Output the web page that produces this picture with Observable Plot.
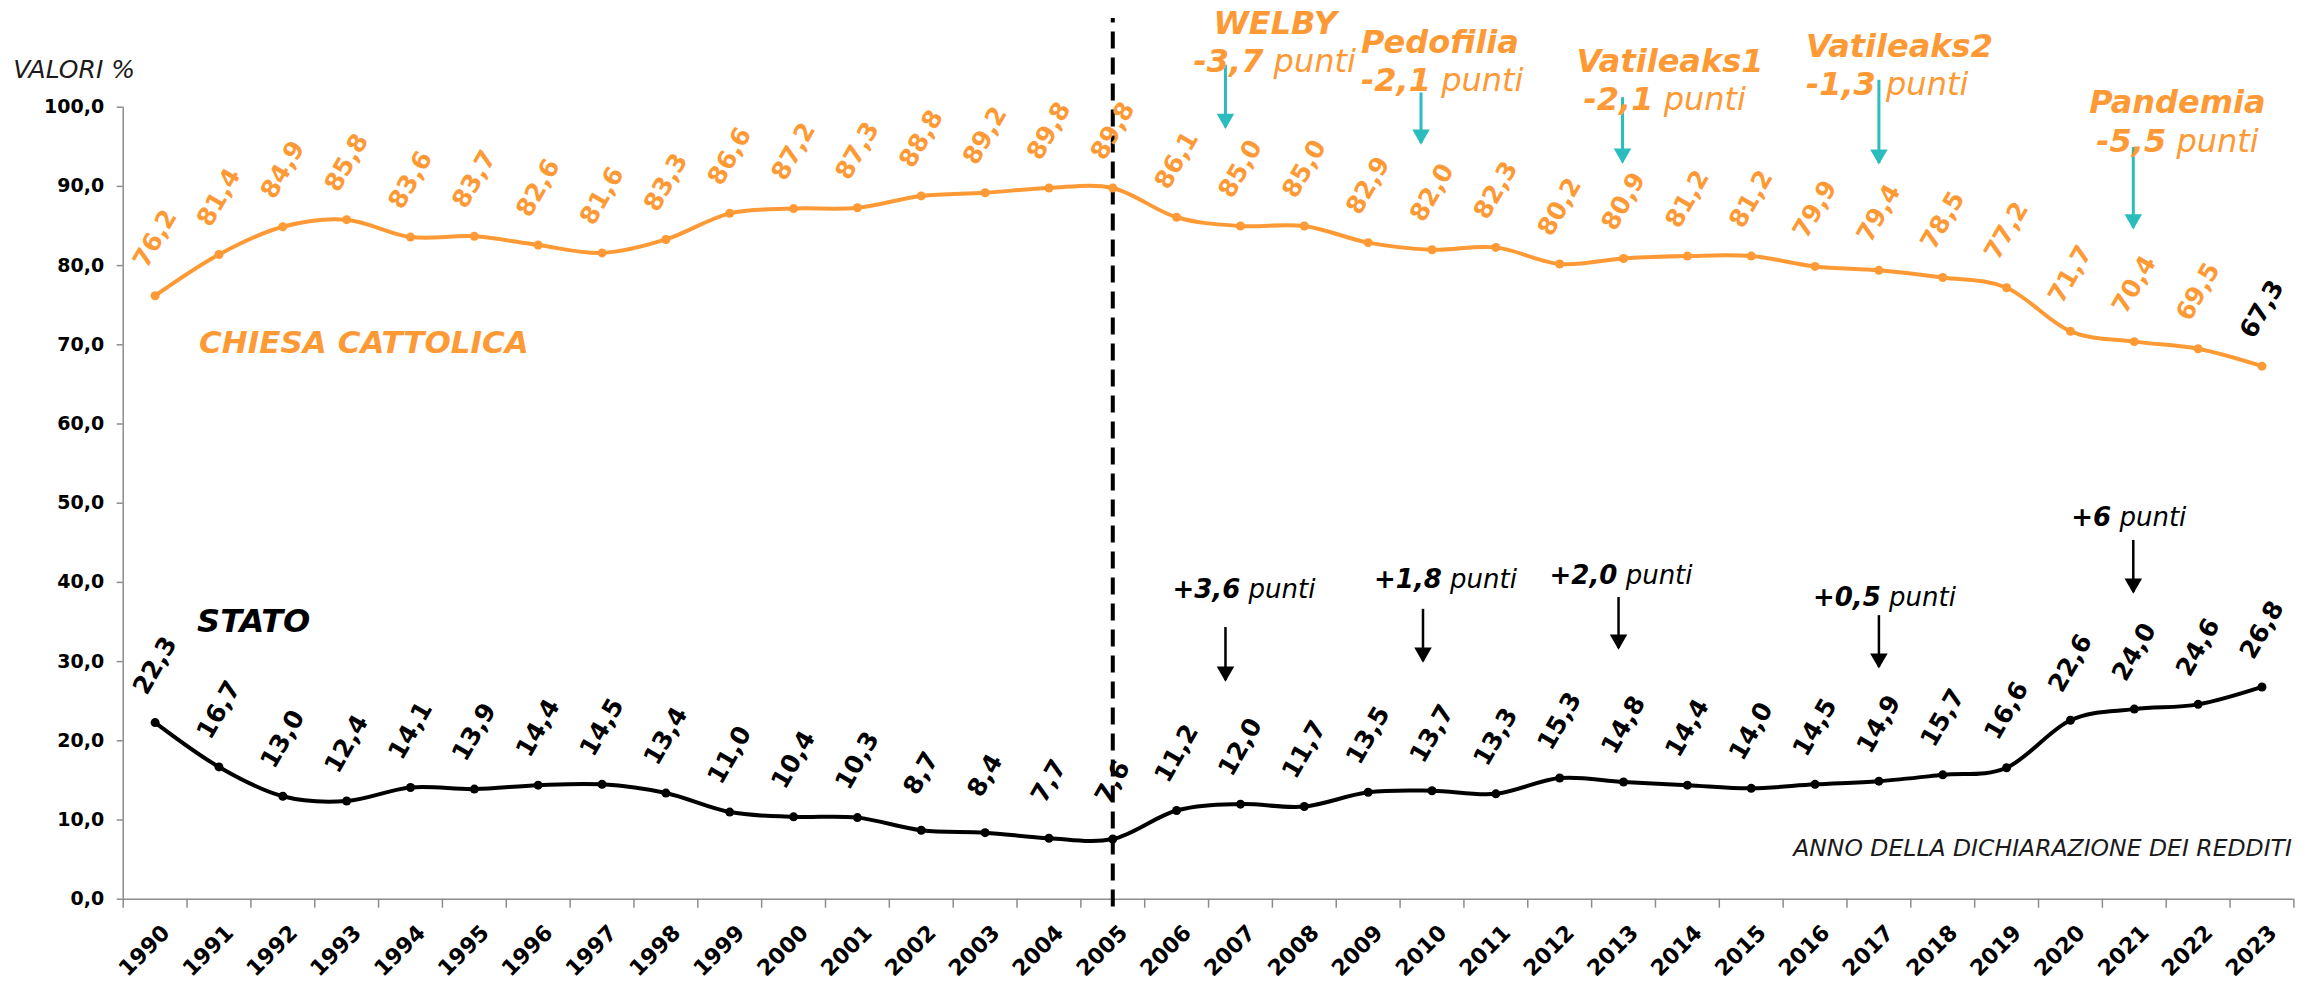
<!DOCTYPE html>
<html><head><meta charset="utf-8">
<script src="https://cdn.jsdelivr.net/npm/d3@7"></script>
<script src="https://cdn.jsdelivr.net/npm/@observablehq/plot@0.6"></script>
<style>
html,body{margin:0;padding:0;background:#fff;}
#chart svg{display:block;background:linear-gradient(to right,#fff 0,#fff 5px,#f4f4f4 5px);}
</style></head><body><div id="chart"></div><script>
// ---- data ----
const years = [1990,1991,1992,1993,1994,1995,1996,1997,1998,1999,2000,2001,2002,2003,2004,2005,2006,2007,2008,2009,2010,2011,2012,2013,2014,2015,2016,2017,2018,2019,2020,2021,2022,2023];
const chiesa = [76.2,81.4,84.9,85.8,83.6,83.7,82.6,81.6,83.3,86.6,87.2,87.3,88.8,89.2,89.8,89.8,86.1,85.0,85.0,82.9,82.0,82.3,80.2,80.9,81.2,81.2,79.9,79.4,78.5,77.2,71.7,70.4,69.5,67.3];
const stato  = [22.3,16.7,13.0,12.4,14.1,13.9,14.4,14.5,13.4,11.0,10.4,10.3,8.7,8.4,7.7,7.6,11.2,12.0,11.7,13.5,13.7,13.3,15.3,14.8,14.4,14.0,14.5,14.9,15.7,16.6,22.6,24.0,24.6,26.8];
const yTicks = [0,10,20,30,40,50,60,70,80,90,100];
const splitYear = 2005;
const churchEvents = ["WELBY","Pedofilia","Vatileaks1","Vatileaks2","Pandemia"];
const churchEventYears = [2007,2010,2013,2017,2021];
const churchDeltas = ["-3,7","-2,1","-2,1","-1,3","-5,5"];
const stateEventYears = [2007,2010,2013,2017,2021];
const stateDeltas = ["+3,6","+1,8","+2,0","+0,5","+6"];
const unitWord = "punti";
const seriesNames = ["CHIESA CATTOLICA","STATO"];
const yTitle = "VALORI %";
const xTitle = "ANNO DELLA DICHIARAZIONE DEI REDDITI";

// ---- layout (px offsets from the event year, heights in % units) ----
const churchLayout = [
  {tdx:-27, ty:109.3, ldx:-47, ly:104.4, adx:-15, a1:105.3, a2:97.4},
  {tdx:-71, ty:106.9, ldx:-71, ly:102.1, adx:-11, a1:101.8, a2:95.4},
  {tdx:-47, ty:104.4, ldx:-40, ly:99.6,  adx:-1,  a1:101.2, a2:93.0},
  {tdx:-73, ty:106.3, ldx:-73, ly:101.5, adx:0,   a1:103.4, a2:92.9},
  {tdx:-45, ty:99.3,  ldx:-38, ly:94.3,  adx:-1,  a1:94.9,  a2:84.7}
];
const stateLayout = [
  {ldx:-68, ly:37.97, adx:-15, a1:34.3, a2:27.6},
  {ldx:-58, ly:39.23, adx:-9,  a1:36.6, a2:30.0},
  {ldx:-74, ly:39.86, adx:-5,  a1:38.1, a2:31.65},
  {ldx:-66, ly:37.08, adx:0,   a1:35.8, a2:29.26},
  {ldx:-63, ly:47.18, adx:-1,  a1:45.3, a2:38.72}
];

const W = 2320, H = 987, ML = 122.7, MR = 26.6, MT = 106.7, MB = 88.3;
const ORANGE = "#fd9a36", TEAL = "#2bbdbd", AXIS = "#8c8c8c";
const fmt = v => v.toFixed(1).replace(".", ",");
const x0 = years[0] - 0.5, x1 = years[years.length - 1] + 0.5;
const pxPerYear = (W - ML - MR) / (x1 - x0);
const off = (year, px) => year + px / pxPerYear;

const rowsC = years.map((year, i) => ({year, value: chiesa[i]}));
const rowsS = years.map((year, i) => ({year, value: stato[i]}));
const cNotes = churchEvents.map((t, i) => {
  const L = churchLayout[i], y = churchEventYears[i];
  return {title: t, line: churchDeltas[i] + " " + unitWord, tx: off(y, L.tdx), ty: L.ty, lx: off(y, L.ldx), ly: L.ly, ax: off(y, L.adx), a1: L.a1, a2: L.a2};
});
const sNotes = stateDeltas.map((d, i) => {
  const L = stateLayout[i], y = stateEventYears[i];
  return {line: d + " " + unitWord, lx: off(y, L.ldx), ly: L.ly, ax: off(y, L.adx), a1: L.a1, a2: L.a2};
});
const bounds = years.map(y => y - 0.5).concat([x1]);
const lastYear = years[years.length - 1];

const chart = Plot.plot({
  width: W, height: H,
  marginLeft: ML, marginRight: MR, marginTop: MT, marginBottom: MB,
  x: {type: "linear", domain: [x0, x1], axis: null},
  y: {domain: [0, 100], axis: null},
  style: {fontFamily: "'DejaVu Sans', Verdana, sans-serif", background: "transparent", overflow: "visible"},
  marks: [
    // axes
    Plot.ruleX([x0], {y1: 0, y2: 100, stroke: AXIS, strokeWidth: 1.5}),
    Plot.ruleY([0], {x1: x0, x2: x1, stroke: AXIS, strokeWidth: 1.5}),
    Plot.axisY({ticks: yTicks, tickFormat: fmt, tickSize: 6, tickPadding: 13, fontSize: 19, fontWeight: "bold", color: "#000", stroke: AXIS, strokeWidth: 1.5, label: null}),
    Plot.axisX({ticks: bounds, tickSize: 9, tickFormat: () => "", stroke: AXIS, strokeWidth: 1.5, label: null}),
    Plot.axisX({ticks: years, tickSize: 0, tickPadding: 30, tickRotate: -45, dx: 11, fontSize: 22, fontWeight: "bold", color: "#000", tickFormat: d => String(d), label: null}),
    // split line
    Plot.ruleX([splitYear], {y1: -1, y2: 111.2, stroke: "#000", strokeWidth: 4, strokeDasharray: "17,9"}),
    // series
    Plot.line(rowsC, {x: "year", y: "value", stroke: ORANGE, strokeWidth: 4, curve: "cardinal"}),
    Plot.dot(rowsC, {x: "year", y: "value", r: 4.5, fill: ORANGE}),
    Plot.line(rowsS, {x: "year", y: "value", stroke: "#000", strokeWidth: 4, curve: "cardinal"}),
    Plot.dot(rowsS, {x: "year", y: "value", r: 4.5, fill: "#000"}),
    Plot.text(rowsC, {x: "year", y: "value", text: d => fmt(d.value), rotate: -60, dy: -57, fontSize: 25, fontWeight: "bold", fill: d => d.year === lastYear ? "#000" : ORANGE}),
    Plot.text(rowsS, {x: "year", y: "value", text: d => fmt(d.value), rotate: -60, dy: -57, fontSize: 25, fontWeight: "bold", fill: "#000"}),
    // series names
    Plot.text([seriesNames[0]], {x: off(years[0], 44), y: 69.0, text: d => d, textAnchor: "start", lineAnchor: "bottom", fontSize: 31, fontWeight: "bold", fontStyle: "italic", fill: ORANGE}),
    Plot.text([seriesNames[1]], {x: off(years[0], 42), y: 33.7, text: d => d, textAnchor: "start", lineAnchor: "bottom", fontSize: 32, fontWeight: "bold", fontStyle: "italic", fill: "#000"}),
    // titles
    Plot.text([yTitle], {frameAnchor: "top-left", text: d => d, dx: -110, dy: -29.7, textAnchor: "start", lineAnchor: "bottom", fontSize: 25, fontStyle: "italic", fill: "#1a1a1a"}),
    Plot.text([xTitle], {frameAnchor: "bottom-right", text: d => d, dx: -2, dy: -43.7, textAnchor: "end", lineAnchor: "bottom", fontSize: 23.5, fontStyle: "italic", fill: "#1a1a1a"}),
    // church notes
    Plot.ruleX(cNotes, {x: "ax", y1: "a1", y2: "a2", stroke: TEAL, strokeWidth: 3}),
    Plot.dot(cNotes, {x: "ax", y: "a2", symbol: "triangle", rotate: 180, r: 6.5, dy: -9, fill: TEAL}),
    Plot.text(cNotes, {x: "tx", y: "ty", text: "title", textAnchor: "start", lineAnchor: "bottom", fontSize: 32, fontWeight: "bold", fontStyle: "italic", fill: ORANGE}),
    Plot.text(cNotes, {x: "lx", y: "ly", text: "line", textAnchor: "start", lineAnchor: "bottom", fontSize: 32, fontStyle: "italic", fill: ORANGE}),
    // state notes
    Plot.ruleX(sNotes, {x: "ax", y1: "a1", y2: "a2", stroke: "#000", strokeWidth: 2.5}),
    Plot.dot(sNotes, {x: "ax", y: "a2", symbol: "triangle", rotate: 180, r: 6.5, dy: -9, fill: "#000"}),
    Plot.text(sNotes, {x: "lx", y: "ly", text: "line", textAnchor: "start", lineAnchor: "bottom", fontSize: 26, fontStyle: "italic", fill: "#000"})
  ]
});
document.getElementById("chart").appendChild(chart);

// bold number + regular unit word inside the note lines
d3.select(chart).selectAll("text").filter(function() {
  return this.childElementCount === 0 && this.textContent.endsWith(" " + unitWord);
}).each(function() {
  const t = this.textContent; const k = t.indexOf(" ");
  this.textContent = "";
  const s = d3.select(this);
  s.append("tspan").attr("font-weight", "bold").text(t.slice(0, k));
  s.append("tspan").attr("font-weight", "normal").text(t.slice(k));
});
</script></body></html>
